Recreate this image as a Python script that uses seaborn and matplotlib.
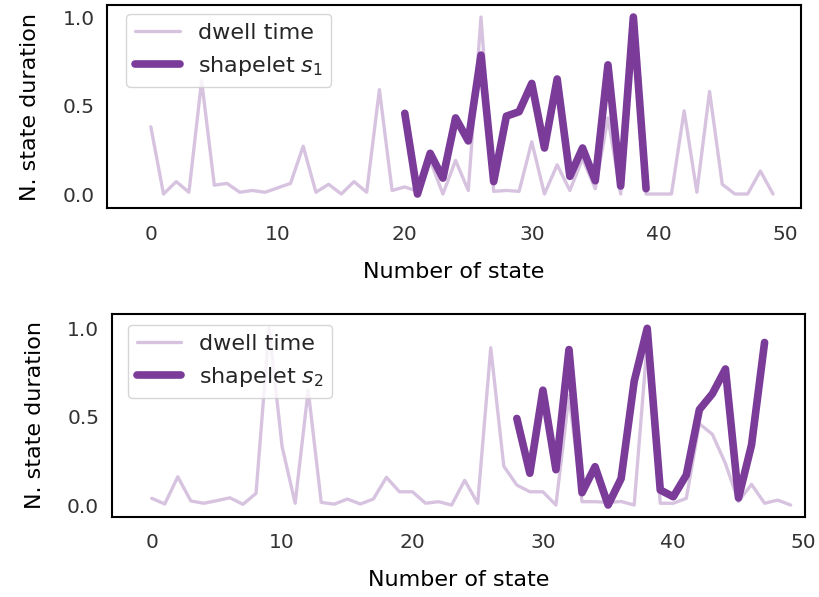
import numpy as np
import pandas as pd
import matplotlib
matplotlib.use("Agg")
import matplotlib.pyplot as plt
import seaborn as sns

# Normalised dwell time per state (50 states) and the matched shapelets
states = list(range(50))

dwell_1 = [0.38, 0.00, 0.07, 0.01, 0.64, 0.05, 0.06, 0.01, 0.02, 0.01,
           0.035, 0.06, 0.27, 0.01, 0.055, 0.00, 0.07, 0.01, 0.59, 0.02,
           0.04, 0.015, 0.19, 0.00, 0.19, 0.02, 1.00, 0.015, 0.02, 0.015,
           0.295, 0.00, 0.165, 0.02, 0.20, 0.03, 0.43, 0.00, 0.97, 0.00,
           0.00, 0.00, 0.47, 0.01, 0.58, 0.055, 0.00, 0.00, 0.13, 0.00]
shapelet_1_start = 20
shapelet_1 = [0.456, 0.00, 0.23, 0.09, 0.43, 0.30, 0.785, 0.07, 0.44, 0.465,
              0.625, 0.26, 0.65, 0.10, 0.26, 0.075, 0.73, 0.045, 1.00, 0.03]

dwell_2 = [0.038, 0.006, 0.16, 0.023, 0.01, 0.025, 0.041, 0.004, 0.066, 1.00,
           0.33, 0.01, 0.65, 0.015, 0.005, 0.034, 0.006, 0.034, 0.157, 0.075,
           0.075, 0.01, 0.019, 0.00, 0.14, 0.01, 0.89, 0.22, 0.113, 0.075,
           0.075, 0.00, 0.62, 0.019, 0.019, 0.015, 0.02, 0.00, 0.92, 0.01,
           0.01, 0.038, 0.46, 0.40, 0.235, 0.02, 0.117, 0.01, 0.028, 0.00]
shapelet_2_start = 28
shapelet_2 = [0.49, 0.18, 0.65, 0.20, 0.88, 0.07, 0.217, 0.00, 0.15, 0.70,
              1.00, 0.085, 0.047, 0.17, 0.54, 0.63, 0.77, 0.04, 0.34, 0.92]

x_ticks = [0, 10, 20, 30, 40, 50]
y_ticks = [0.0, 0.5, 1.0]

purple = "#7b3b99"

sns.set_style("white")
plt.rcParams["font.family"] = ["DejaVu Sans"]

fig = plt.figure(figsize=(8.2, 5.97), dpi=100)

panels = [
    dict(rect=[0.1305, 0.6516, 0.8463, 0.3400], dwell=dwell_1,
         shp=shapelet_1, start=shapelet_1_start, label=r"shapelet $s_1$",
         xlim=(-3.45, 51.2), ylim=(-0.079, 1.068), anchor=(0.028, 0.956)),
    dict(rect=[0.1362, 0.1345, 0.8455, 0.3395], dwell=dwell_2,
         shp=shapelet_2, start=shapelet_2_start, label=r"shapelet $s_2$",
         xlim=(-3.07, 50.1), ylim=(-0.066, 1.081), anchor=(0.023, 0.946)),
]

for p in panels:
    ax = fig.add_axes(p["rect"])
    df_dwell = pd.DataFrame({"state": states, "value": p["dwell"]})
    shp_x = list(range(p["start"], p["start"] + len(p["shp"])))
    df_shp = pd.DataFrame({"state": shp_x, "value": p["shp"]})

    sns.lineplot(data=df_dwell, x="state", y="value", ax=ax, color=purple,
                 alpha=0.3, linewidth=2.4, label="dwell time")
    sns.lineplot(data=df_shp, x="state", y="value", ax=ax, color=purple,
                 linewidth=5.5, label=p["label"],
                 solid_capstyle="round", solid_joinstyle="round")

    ax.set_xlim(*p["xlim"])
    ax.set_ylim(*p["ylim"])
    ax.set_xticks(x_ticks)
    ax.set_yticks(y_ticks)
    ax.set_xticklabels([str(t) for t in x_ticks])
    ax.set_yticklabels([f"{t:.1f}" for t in y_ticks])
    ax.tick_params(labelsize=14.5, colors="#333333", length=0)
    ax.tick_params(axis="x", pad=12)
    ax.tick_params(axis="y", pad=9)
    ax.set_xlabel("Number of state", fontsize=16, color="black", labelpad=13)
    ax.set_ylabel("N. state duration", fontsize=16, color="black", labelpad=16)
    for s in ax.spines.values():
        s.set_visible(True)
        s.set_color("black")
        s.set_linewidth(1.5)

    leg = ax.legend(loc="upper left", bbox_to_anchor=p["anchor"],
                    borderaxespad=0, fontsize=16, frameon=True,
                    handlelength=2.0)
    for t in leg.get_texts():
        t.set_color("#262626")
    leg.get_frame().set_edgecolor("#cccccc")

fig.savefig("out.png", dpi=100)
